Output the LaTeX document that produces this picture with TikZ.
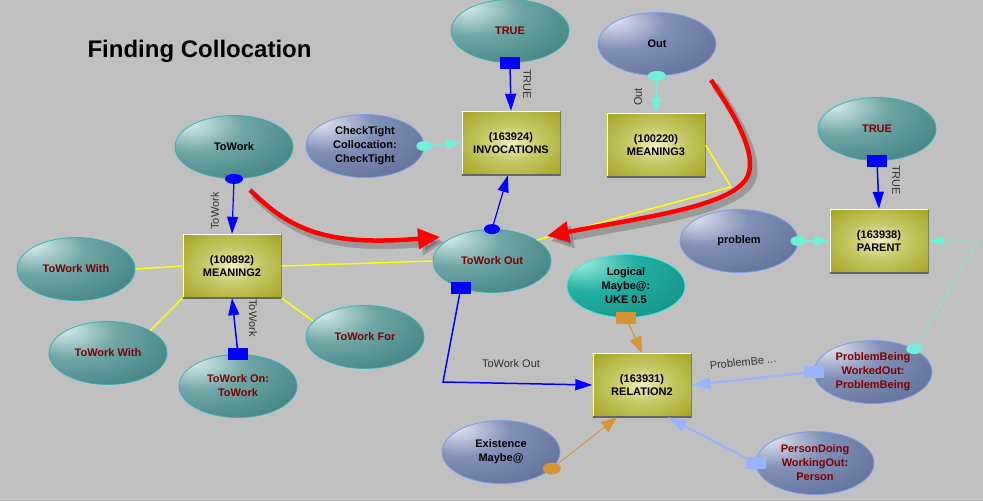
\documentclass[tikz,border=0pt]{standalone}
\usepackage{fontspec}
\setmainfont{Liberation Sans}
\usetikzlibrary{arrows.meta,shapes.geometric,calc}
\definecolor{bg}{HTML}{C0C0C0}
\definecolor{tealhi}{HTML}{DCEEEE}
\definecolor{tealmid}{HTML}{6FA6A6}
\definecolor{tealdk}{HTML}{2F7272}
\definecolor{tealbd}{HTML}{38B0B8}
\definecolor{bluhi}{HTML}{E4E8F2}
\definecolor{blumid}{HTML}{8090B6}
\definecolor{bludk}{HTML}{53628C}
\definecolor{blubd}{HTML}{7C9CEC}
\definecolor{cyhi}{HTML}{A0EEE0}
\definecolor{cymid}{HTML}{22B0A2}
\definecolor{cydk}{HTML}{10867C}
\definecolor{cybd}{HTML}{40E8E8}
\definecolor{olhi}{HTML}{EEEEC0}
\definecolor{olmid}{HTML}{C8C868}
\definecolor{oldk}{HTML}{9C9C14}
\definecolor{dred}{HTML}{800000}
\definecolor{aqua}{HTML}{70F0D8}
\definecolor{lblue}{HTML}{98B4FF}
\definecolor{orng}{HTML}{D89434}
\definecolor{ylw}{HTML}{FFFF00}
\definecolor{lbl}{HTML}{303030}
\definecolor{pure}{HTML}{0000FF}
\pgfdeclareradialshading{tealball}{\pgfpoint{-20bp}{20bp}}{color(0bp)=(tealhi);color(20bp)=(tealmid);color(55bp)=(tealdk);color(100bp)=(tealdk)}
\pgfdeclareradialshading{bluball}{\pgfpoint{-20bp}{20bp}}{color(0bp)=(bluhi);color(20bp)=(blumid);color(55bp)=(bludk);color(100bp)=(bludk)}
\pgfdeclareradialshading{cyball}{\pgfpoint{-20bp}{20bp}}{color(0bp)=(cyhi);color(20bp)=(cymid);color(55bp)=(cydk);color(100bp)=(cydk)}
\pgfdeclareradialshading{pillow}{\pgfpoint{0bp}{0bp}}{color(0bp)=(olhi);color(14bp)=(olmid);color(40bp)=(oldk);color(100bp)=(oldk)}
\tikzset{
  ell/.style={ellipse, minimum width=118pt, minimum height=63pt, inner sep=0pt, line width=0.8pt,
    align=center, font=\bfseries\fontsize{11}{14}\selectfont},
  tealn/.style={ell, draw=tealbd, shading=tealball},
  blun/.style={ell, draw=blubd, shading=bluball},
  cyn/.style={ell, draw=cybd, shading=cyball},
  olbox/.style={rectangle, minimum width=99pt, minimum height=64pt, inner sep=0pt, shading=pillow,
    align=center, font=\bfseries\fontsize{11}{13}\selectfont,
    path picture={
      \draw[white, line width=2.4pt] (path picture bounding box.south west) -- (path picture bounding box.north west) -- (path picture bounding box.north east);
      \draw[gray!80!black, line width=2pt] (path picture bounding box.north east) -- (path picture bounding box.south east) -- (path picture bounding box.south west);}},
  elbl/.style={text=lbl, font=\fontsize{11}{13}\selectfont, inner sep=0pt},
  bluec/.style={draw=pure, line width=1.5pt, -{Triangle[length=17pt,width=11pt]}},
  aquac/.style={draw=aqua, line width=1.2pt, -{Triangle[length=15pt,width=10pt]}},
  lbluec/.style={draw=lblue, line width=2pt, -{Triangle[length=19pt,width=12pt]}},
  orngc/.style={draw=orng, line width=1.3pt, -{Triangle[length=16pt,width=12pt]}},
  ylwc/.style={draw=ylw, line width=1.5pt},
  redc/.style={draw=red, line width=4.5pt, -{Triangle[length=22pt,width=20pt]}},
  shadowc/.style={draw=black, opacity=0.2, line width=7pt, -{Triangle[length=22pt,width=22pt]},
    transform canvas={shift={(4pt,-5pt)}}},
}
\begin{document}
\begin{tikzpicture}[x=1pt,y=-1pt]
\path[use as bounding box, fill=bg] (0,0) rectangle (983,501);

% title
\node[anchor=base west, text=black, font=\bfseries\fontsize{24}{28}\selectfont] (title) at (84,57) {Finding Collocation};

% ellipses
\node[tealn, text=dred] (t1) at (510,31) {TRUE};
\node[blun] (out) at (657,44) {Out};
\node[tealn, text=dred] (t2) at (877,129) {TRUE};
\node[tealn] (tw) at (234,147) {ToWork};
\node[blun] (ct) at (365,146) {CheckTight\\Collocation:\\CheckTight};
\node[tealn, text=dred] (tww1) at (76,269) {ToWork With};
\node[tealn, text=dred] (tww2) at (108,353) {ToWork With};
\node[tealn, text=dred] (twon) at (238,386) {ToWork On:\\ToWork};
\node[tealn, text=dred] (twf) at (365,337) {ToWork For};
\node[tealn, text=dred] (two) at (492,261) {ToWork Out};
\node[cyn] (log) at (626,286) {Logical\\Maybe@:\\UKE 0.5};
\node[blun] (prob) at (739,241) {problem};
\node[blun, text=dred] (pbw) at (873,372) {ProblemBeing\\WorkedOut:\\ProblemBeing};
\node[blun, text=dred] (pdw) at (815,463) {PersonDoing\\WorkingOut:\\Person};
\node[blun] (ex) at (501,452) {Existence\\Maybe@};

% boxes
\node[olbox] (inv) at (511,143) {(163924)\\INVOCATIONS};
\node[olbox] (m3) at (656,145) {(100220)\\MEANING3};
\node[olbox] (m2) at (232,266) {(100892)\\MEANING2};
\node[olbox] (rel) at (642,385) {(163931)\\RELATION2};
\node[olbox] (par) at (879,241) {(163938)\\PARENT};

% yellow links
\coordinate (yb) at (731,187);
\draw[ylwc] (tww1.east) -- (m2.west);
\draw[ylwc] (tww2.28) -- (m2.south west);
\draw[ylwc] (twf.163) -- (m2.south east);
\draw[ylwc] (m2.east) -- (two.west);
\draw[ylwc] (m3.east) -- (yb) -- (two.25);

% blue links
\draw[bluec] (t1.south) -- (inv.north);
\fill[pure] ($(t1.south)+(-10,-6)$) rectangle ($(t1.south)+(10,6)$);
\node[elbl, rotate=-90] (lt1) at (527,84) {TRUE};

\draw[bluec, line width=1.2pt] (tw.south) -- (m2.north);
\fill[pure] (tw.south) ellipse [x radius=9, y radius=5];
\node[elbl, rotate=90] (ltw) at (215,211) {ToWork};

\draw[bluec] (twon.north) -- (m2.south);
\fill[pure] ($(twon.north)+(-10,-6)$) rectangle ($(twon.north)+(10,6)$);
\node[elbl, rotate=-90] (ltwon) at (253,318) {ToWork};

\draw[bluec, line width=1.2pt] (two.north) -- ($(inv.south)+(-3,0)$);
\fill[pure] (two.north) ellipse [x radius=8, y radius=5];

\coordinate (bk) at (443,382);
\draw[bluec] (two.221) -- (bk) -- (rel.west);
\fill[pure] ($(two.221)+(-10,-6)$) rectangle ($(two.221)+(10,6)$);
\node[elbl] (ltwo) at (511,364) {ToWork Out};

\draw[bluec] (t2.south) -- (par.north);
\fill[pure] ($(t2.south)+(-10,-6)$) rectangle ($(t2.south)+(10,6)$);
\node[elbl, rotate=-90] (lt2) at (896,180) {TRUE};

% aqua links
\draw[aquac] (ct.east) -- (inv.west);
\fill[aqua] (ct.east) ellipse [x radius=8, y radius=5];
\draw[aquac] (out.south) -- (m3.north);
\fill[aqua] (out.south) ellipse [x radius=9, y radius=5];
\node[elbl, rotate=90] (lout) at (638,97) {Out};
\draw[aquac] (prob.east) -- (par.west);
\fill[aqua] (prob.east) ellipse [x radius=8, y radius=5];
\coordinate (ab) at (978,241);
\draw[aquac, line width=0.8pt] (pbw.29) -- (ab) -- (par.east);
\fill[aqua] (pbw.29) ellipse [x radius=8, y radius=5];

% light blue links
\draw[lbluec] (pbw.west) -- (rel.east);
\fill[lblue] ($(pbw.west)+(-10,-6)$) rectangle ($(pbw.west)+(10,6)$);
\node[elbl, rotate=6] (lpb) at (743,362) {ProblemBe ...};
\draw[lbluec] (pdw.west) -- ($(rel.south east)+(-24,0)$);
\fill[lblue] ($(pdw.west)+(-10,-6)$) rectangle ($(pdw.west)+(10,6)$);

% orange links
\draw[orngc] (log.south) -- (rel.north);
\fill[orng] ($(log.south)+(-10,-6)$) rectangle ($(log.south)+(10,6)$);
\draw[orngc, line width=0.9pt] (ex.342) -- ($(rel.south)!0.5!(rel.south west)$);
\fill[orng] (ex.342) ellipse [x radius=9, y radius=6];

% red annotation arrows
\coordinate (r1s) at (250,190);
\coordinate (r1e) at (440,237);
\coordinate (r2s) at (711,80);
\coordinate (r2m) at (742,184);
\coordinate (r2e) at (547,236);
\draw[shadowc] (r1s) .. controls (292,232) and (330,246) .. (r1e);
\draw[shadowc] (r2s) .. controls (742,125) and (762,166) .. (r2m) .. controls (718,208) and (640,218) .. (r2e);
\draw[redc] (r1s) .. controls (292,232) and (330,246) .. (r1e);
\draw[redc] (r2s) .. controls (742,125) and (762,166) .. (r2m) .. controls (718,208) and (640,218) .. (r2e);
\end{tikzpicture}
\end{document}
